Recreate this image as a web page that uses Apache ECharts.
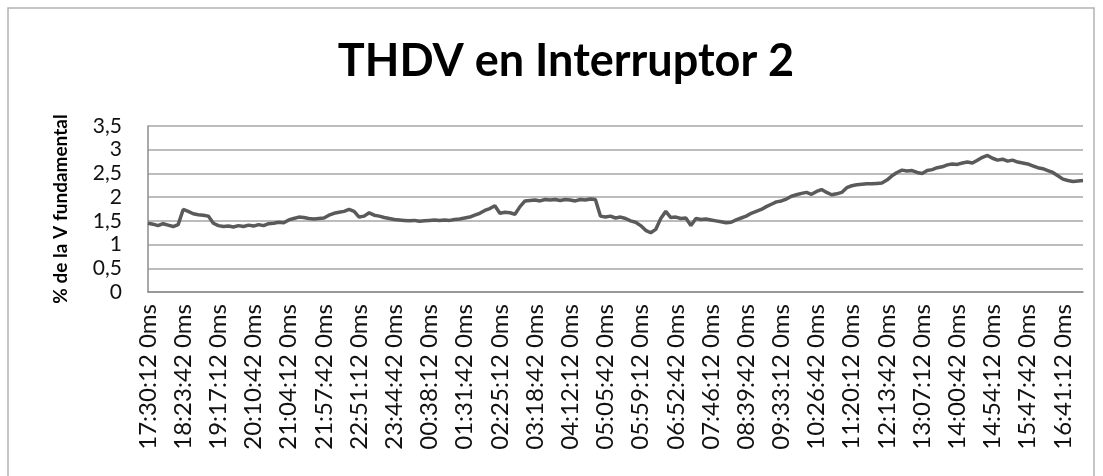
<!DOCTYPE html>
<html>
<head>
<meta charset="utf-8">
<script src="https://cdn.jsdelivr.net/npm/echarts@6/dist/echarts.min.js"></script>
<style>
  html, body { margin: 0; padding: 0; background: #fff; }
  #chart { width: 1103px; height: 476px; }
</style>
</head>
<body>
<div id="chart"></div>
<script>
// tick labels shown on the category axis (one every 7 samples)
var tickLabels = [
    '17:30:12 0ms', '18:23:42 0ms', '19:17:12 0ms', '20:10:42 0ms', '21:04:12 0ms',
    '21:57:42 0ms', '22:51:12 0ms', '23:44:42 0ms', '00:38:12 0ms', '01:31:42 0ms',
    '02:25:12 0ms', '03:18:42 0ms', '04:12:12 0ms', '05:05:42 0ms', '05:59:12 0ms',
    '06:52:42 0ms', '07:46:12 0ms', '08:39:42 0ms', '09:33:12 0ms', '10:26:42 0ms',
    '11:20:12 0ms', '12:13:42 0ms', '13:07:12 0ms', '14:00:42 0ms', '14:54:12 0ms',
    '15:47:42 0ms', '16:41:12 0ms'
];
var samplesPerTick = 7;

// THDV (% of the fundamental voltage)
var thdv = [
    1.45, 1.43, 1.40, 1.44, 1.41, 1.38, 1.42, 1.74, 1.70, 1.65,
    1.63, 1.62, 1.60, 1.45, 1.40, 1.38, 1.39, 1.37, 1.40, 1.38,
    1.41, 1.39, 1.42, 1.40, 1.44, 1.45, 1.47, 1.46, 1.52, 1.55,
    1.58, 1.57, 1.55, 1.54, 1.55, 1.56, 1.62, 1.66, 1.68, 1.70,
    1.74, 1.70, 1.58, 1.60, 1.67, 1.62, 1.60, 1.57, 1.55, 1.53,
    1.52, 1.51, 1.50, 1.51, 1.49, 1.50, 1.51, 1.52, 1.51,
    1.52, 1.51, 1.53, 1.54, 1.56, 1.58, 1.62, 1.66, 1.72, 1.76,
    1.82, 1.66, 1.68, 1.67, 1.64, 1.80, 1.92, 1.93, 1.94, 1.92,
    1.95, 1.94, 1.95, 1.93, 1.95, 1.94, 1.92, 1.95, 1.94, 1.96,
    1.95, 1.60, 1.58, 1.60, 1.56, 1.58, 1.55, 1.50, 1.47, 1.40,
    1.30, 1.25, 1.32, 1.55, 1.70, 1.57, 1.58, 1.55, 1.56, 1.40,
    1.55, 1.53, 1.54, 1.52, 1.50, 1.48, 1.46, 1.47, 1.52, 1.56,
    1.60, 1.66, 1.70, 1.74, 1.80, 1.85, 1.90, 1.92, 1.96, 2.02,
    2.05, 2.08, 2.10, 2.06, 2.12, 2.16, 2.10, 2.05, 2.07,
    2.10, 2.20, 2.24, 2.26, 2.27, 2.28, 2.28, 2.29, 2.30, 2.36,
    2.45, 2.52, 2.57, 2.55, 2.56, 2.52, 2.50, 2.56, 2.58, 2.62,
    2.64, 2.68, 2.70, 2.69, 2.72, 2.74, 2.72, 2.78, 2.84, 2.88,
    2.82, 2.78, 2.80, 2.76, 2.78, 2.74, 2.72, 2.70, 2.66, 2.62,
    2.60, 2.56, 2.52, 2.45, 2.38, 2.35, 2.33, 2.34, 2.35
];

var categories = thdv.map(function (v, i) { return String(i); });

var FONT = 'Lato, "Open Sans", sans-serif';
var chart = echarts.init(document.getElementById('chart'));

chart.setOption({
    animation: false,
    backgroundColor: '#fff',
    title: {
        text: 'THDV en Interruptor 2',
        left: 561,
        textAlign: 'center',
        top: 34,
        textStyle: { fontFamily: FONT, fontWeight: 'bold', fontSize: 45, color: '#000' }
    },
    graphic: [{
        type: 'rect',
        shape: { x: 8, y: 8, width: 1086, height: 490 },
        style: { fill: 'none', stroke: '#b3b3b3', lineWidth: 1.5 },
        silent: true
    }],
    grid: { left: 148, right: 20, top: 126, bottom: 184 },
    xAxis: {
        type: 'category',
        data: categories,
        boundaryGap: false,
        axisLine: { lineStyle: { color: '#8c8c8c', width: 1.5 } },
        axisTick: { show: false },
        axisLabel: {
            interval: samplesPerTick - 1,
            rotate: 90,
            margin: 12,
            fontFamily: FONT,
            fontSize: 24,
            color: '#111',
            formatter: function (value, idx) {
                return tickLabels[idx / samplesPerTick] || '';
            }
        }
    },
    yAxis: {
        type: 'value',
        min: 0,
        max: 3.5,
        interval: 0.5,
        name: '% de la V fundamental',
        nameLocation: 'middle',
        nameRotate: 90,
        nameGap: 78,
        nameTextStyle: { fontFamily: FONT, fontWeight: 'bold', fontSize: 19, color: '#000' },
        axisLine: { show: true, lineStyle: { color: '#8c8c8c', width: 1.5 } },
        axisTick: { show: false },
        splitLine: { lineStyle: { color: '#a6a6a6', width: 1.5 } },
        axisLabel: {
            margin: 26,
            fontFamily: FONT,
            fontSize: 21,
            color: '#111',
            formatter: function (v) { return String(v).replace('.', ','); }
        }
    },
    series: [{
        type: 'line',
        data: thdv,
        showSymbol: false,
        lineStyle: { color: '#5a5a5a', width: 3.5 },
        itemStyle: { color: '#5a5a5a' }
    }]
});

window.addEventListener('resize', function () {
    chart.resize();
});
</script>
</body>
</html>
